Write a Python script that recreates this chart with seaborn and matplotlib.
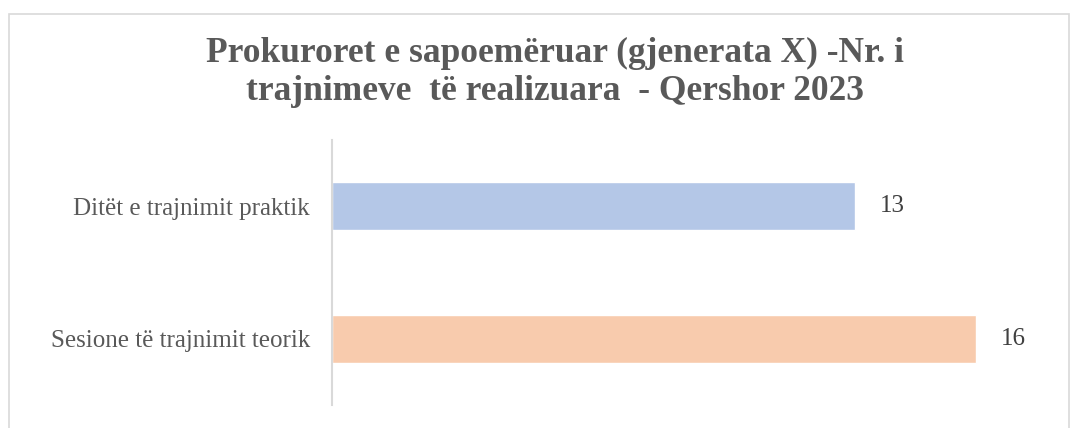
import matplotlib.pyplot as plt
import pandas as pd
import seaborn as sns
from matplotlib.patches import Rectangle

categories = ['Ditët e trajnimit praktik', 'Sesione të trajnimit teorik']
values = [13, 16]
colors = ['#B4C7E7', '#F8CBAD']
title = 'Prokuroret e sapoemëruar (gjenerata X) -Nr. i\ntrajnimeve  të realizuara  - Qershor 2023'


def main() -> None:
    df = pd.DataFrame({'category': categories, 'value': values})
    sns.set_theme(style='white')
    plt.rcParams['font.family'] = ['Liberation Serif', 'DejaVu Serif']

    fig = plt.figure(figsize=(10.78, 4.28), dpi=100)
    ax = fig.add_axes([332 / 1078, 1 - 405 / 428, 724 / 1078, 265 / 428])
    sns.barplot(data=df, x='value', y='category', hue='category', palette=colors,
                orient='h', width=0.36, saturation=1, legend=False, ax=ax)

    ax.set_xlim(0, 18)
    ax.set_xlabel('')
    ax.set_ylabel('')
    ax.set_xticks([])
    for side in ['top', 'right', 'bottom']:
        ax.spines[side].set_visible(False)
    ax.spines['left'].set_color('#D9D9D9')
    ax.spines['left'].set_linewidth(1.5)
    ax.tick_params(axis='y', length=0, pad=16, labelsize=18, labelcolor='#595959')

    for container in ax.containers:
        ax.bar_label(container, padding=18, fontsize=18, color='#404040')

    fig.text(555 / 1078, 1 - 72 / 428, title, ha='center', va='center',
             fontsize=25.5, fontweight='bold', color='#595959', linespacing=1.2)

    fig.patches.append(Rectangle((9 / 1078, -0.05), 1060 / 1078, 1 - 14 / 428 + 0.05,
                                 transform=fig.transFigure, fill=False,
                                 edgecolor='#D9D9D9', linewidth=1.2))

    fig.savefig('out.png', dpi=100)
    plt.close(fig)


if __name__ == '__main__':
    main()
